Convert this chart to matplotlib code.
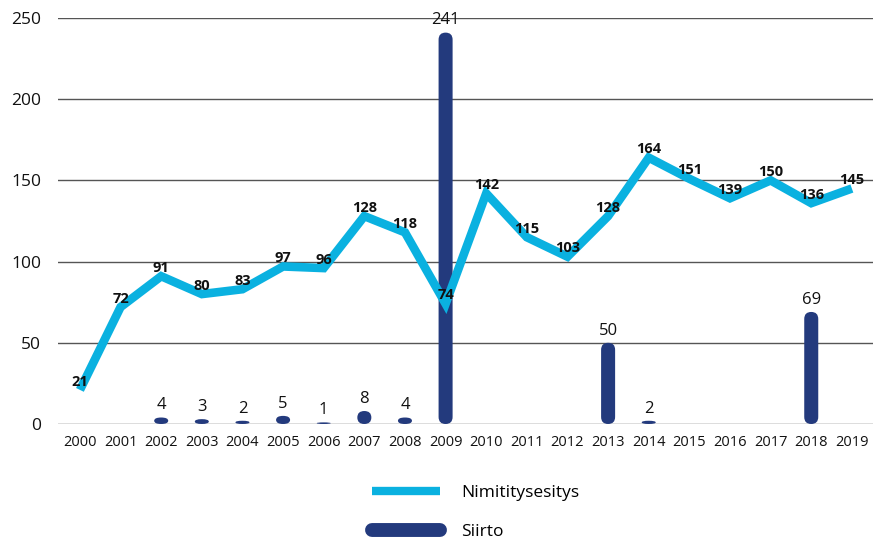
import numpy as np
import matplotlib
matplotlib.use("Agg")
import matplotlib.pyplot as plt
from matplotlib.patches import FancyBboxPatch
from matplotlib.lines import Line2D

plt.rcParams['font.family'] = ['Open Sans', 'DejaVu Sans']

years = [str(y) for y in range(2000, 2020)]
nimitys = [21, 72, 91, 80, 83, 97, 96, 128, 118, 74,
           142, 115, 103, 128, 164, 151, 139, 150, 136, 145]
siirto = [0, 0, 4, 3, 2, 5, 1, 8, 4, 241,
          0, 0, 0, 50, 2, 0, 0, 0, 69, 0]

line_col = '#0ab1e0'
bar_col = '#233a7d'

fig = plt.figure(figsize=(8.73, 5.45), dpi=100)
ax = fig.add_axes([58 / 873, 121 / 545, 815 / 873, 406 / 545])

x = np.arange(len(years))
ax.set_xlim(-0.54, 19.52)
ax.set_ylim(0, 250)

# pikselit / yksikkö pyöristyksiä varten
p0 = ax.transData.transform((0, 0))
p1 = ax.transData.transform((1, 1))
px_x = p1[0] - p0[0]
px_y = p1[1] - p0[1]

w = 0.345
rx = w / 2
ry_full = rx * px_x / px_y
for xi, v in zip(x, siirto):
    if v <= 0:
        continue
    ry = min(ry_full, v / 2)
    patch = FancyBboxPatch((xi - w / 2, 0), w, v,
                           boxstyle="round,pad=0,rounding_size=%f" % rx,
                           mutation_aspect=ry / rx,
                           facecolor=bar_col, edgecolor='none', zorder=3)
    ax.add_patch(patch)
    ax.annotate(str(v), (xi, v), xytext=(0, 3), textcoords='offset points',
                ha='center', va='bottom', fontsize=12, color='#111111', zorder=6)

ax.plot(x, nimitys, color=line_col, lw=6.2, solid_joinstyle='miter',
        solid_capstyle='butt', zorder=4)
for xi, v in zip(x, nimitys):
    ax.annotate(str(v), (xi, v), xytext=(0, 1), textcoords='offset points',
                ha='center', va='bottom', fontsize=10.5, fontweight='bold',
                color='#111111', zorder=6)

ax.set_yticks([0, 50, 100, 150, 200, 250])
ax.set_xticks(x)
ax.set_xticklabels(years)
ax.tick_params(axis='y', length=0, pad=12, labelsize=12.5, labelcolor='#111111')
ax.tick_params(axis='x', length=0, pad=8, labelsize=10.5, labelcolor='#111111')
ax.grid(axis='y', color='#555555', lw=1, zorder=0)
ax.set_axisbelow(True)
for s in ax.spines.values():
    s.set_visible(False)

handles = [Line2D([], [], color=line_col, lw=6, solid_capstyle='butt'),
           Line2D([], [], color=bar_col, lw=10, solid_capstyle='round')]
fig.legend(handles, ['Nimititysesitys', 'Siirto'], loc='center',
           bbox_to_anchor=(0.545, 0.06), frameon=False, fontsize=12.5,
           handlelength=3.9, handletextpad=1.2, labelspacing=1.35)

fig.savefig('out.png', dpi=100)
